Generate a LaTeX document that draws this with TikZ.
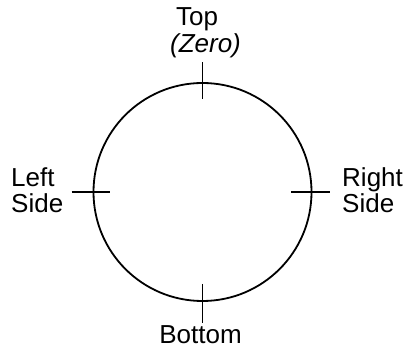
\documentclass[tikz,border=0pt]{standalone}
\usepackage{fontspec}
\setmainfont{Liberation Sans}
\begin{document}
\begin{tikzpicture}[x=1pt,y=1pt,
  lbl/.style={inner sep=0pt,font=\fontsize{26}{27}\selectfont},
  tick/.style={line width=1.8pt},
  ring/.style={circle,draw,line width=1.8pt,minimum size=218pt,inner sep=0pt}]
\useasboundingbox (0,0) rectangle (406,350);
\node[ring] (c) at (202.5,158) {};
% ticks
\draw[tick] ([yshift=20pt]c.north) coordinate (t1) -- ([yshift=-17pt]c.north) coordinate (t2);
\draw[tick] ([yshift=18pt]c.south) coordinate (b1) -- ([yshift=-21pt]c.south) coordinate (b2);
\draw[tick] ([xshift=-21pt]c.west) coordinate (l1) -- ([xshift=17pt]c.west) coordinate (l2);
\draw[tick] ([xshift=-21pt]c.east) coordinate (r1) -- ([xshift=18pt]c.east) coordinate (r2);
% labels
\node[lbl,anchor=base] (top) at (197,324) {Top};
\node[lbl,anchor=base] (zero) at (205.5,297) {\itshape (Zero)};
\node[lbl,anchor=base west] (left1) at (11,163) {Left};
\node[lbl,anchor=base west] (left2) at (11,137) {Side};
\node[lbl,anchor=base west] (right1) at (342,163) {Right};
\node[lbl,anchor=base west] (right2) at (342,137) {Side};
\node[lbl,anchor=base] (bottom) at (200.5,7) {Bottom};
\end{tikzpicture}
\end{document}
